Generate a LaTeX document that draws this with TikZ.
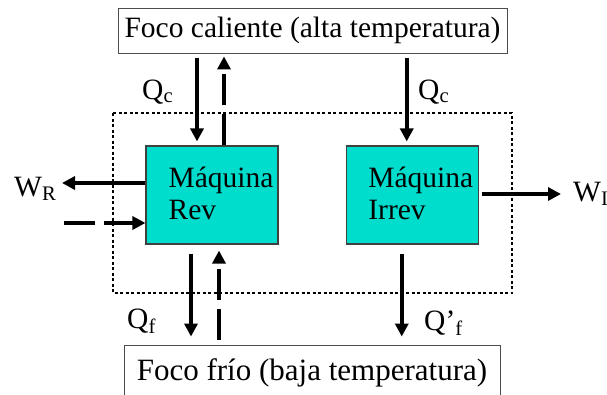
\documentclass[tikz,border=0pt]{standalone}
\usepackage{fontspec}
\setmainfont{Liberation Serif}
\usetikzlibrary{arrows.meta}
\definecolor{enginecyan}{RGB}{0,221,204}
\begin{document}
\begin{tikzpicture}[x=1pt, y=-1pt,
  txt/.style={font=\fontsize{29.5}{32}\selectfont, inner sep=0pt},
  reservoir/.style={txt, draw=black!70, line width=0.9pt, minimum width=#1, minimum height=45pt},
  engine/.style={draw=black!75, fill=enginecyan, line width=1.1pt, minimum width=132pt, minimum height=98pt, inner sep=0pt},
  flow/.style={line width=3.5pt, -{Triangle[length=13pt,width=13pt]}},
  revflow/.style={flow, dash pattern=on 31pt off 9pt}]

  \useasboundingbox (0,0) rectangle (607,394);

  % Reservoirs
  \node[reservoir=389pt] (hot) at (312.5, 30.5) {Foco caliente (alta temperatura)};
  \node[reservoir=376pt, minimum height=55pt, font=\fontsize{31}{34}\selectfont] (cold) at (312, 372.5) {Foco frío (baja temperatura)};

  % System boundary
  \draw[line width=1.2pt, dash pattern=on 3pt off 2.5pt] (113,113) rectangle (512,293);

  % Engines
  \node[engine] (rev) at (212, 195) {};
  \node[engine] (irrev) at (412.75, 195) {};
  \node[txt, align=left, anchor=base west] (revtxt) at ([xshift=23pt, yshift=-74pt]rev.north west) {Máquina\\Rev};
  \node[txt, align=left, anchor=base west] (irrevtxt) at ([xshift=22pt, yshift=-74pt]irrev.north west) {Máquina\\Irrev};

  % Labels
  \node[txt, anchor=base west] (qc1) at (142, 99) {Q\textsubscript{c}};
  \node[txt, anchor=base west] (qc2) at (418, 99) {Q\textsubscript{c}};
  \node[txt, anchor=base west] (qf) at (127, 328) {Q\textsubscript{f}};
  \node[txt, anchor=base west] (qfp) at (424, 330) {Q’\textsubscript{f}};
  \node[txt, anchor=base west] (wr) at (14, 196) {W\textsubscript{R}};
  \node[txt, anchor=base west] (wi) at (573, 201) {W\textsubscript{I}};

  % Free ends of the work arrows
  \coordinate (wrend) at (62, 183);
  \coordinate (wrin) at (64, 223);
  \coordinate (wiend) at (561, 194);

  % Heat from the hot reservoir
  \draw[flow, shorten <=5pt, shorten >=4pt] ([xshift=-15pt]rev.north |- hot.south) -- ([xshift=-15pt]rev.north);
  \draw[revflow, shorten >=3pt] ([xshift=12pt]rev.north) -- ([xshift=12pt]rev.north |- hot.south);
  \draw[flow, shorten <=5pt, shorten >=4pt] ([xshift=-6pt]irrev.north |- hot.south) -- ([xshift=-6pt]irrev.north);

  % Work
  \draw[flow] (rev.west |- wrend) -- (wrend);
  \draw[revflow] (wrin) -- (rev.west |- wrin);
  \draw[flow] ([xshift=3pt]irrev.east |- wiend) -- (wiend);

  % Heat to the cold reservoir
  \draw[flow, shorten <=9pt, shorten >=8pt] ([xshift=-21pt]rev.south) -- ([xshift=-21pt]rev.south |- cold.north);
  \draw[revflow, shorten <=5pt, shorten >=6pt] ([xshift=7pt]rev.south |- cold.north) -- ([xshift=7pt]rev.south);
  \draw[flow, shorten <=9pt, shorten >=8pt] ([xshift=-11pt]irrev.south) -- ([xshift=-11pt]irrev.south |- cold.north);

\end{tikzpicture}
\end{document}
